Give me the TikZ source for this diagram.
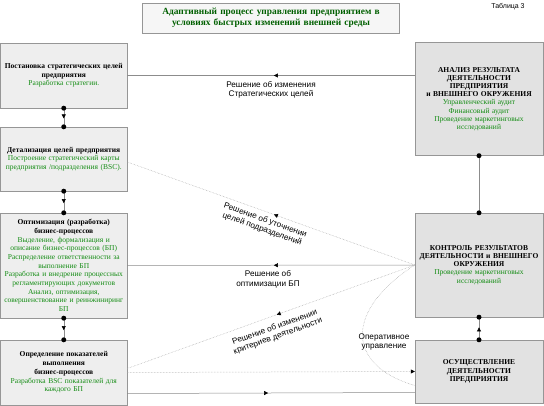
\documentclass[tikz,border=0pt]{standalone}
\usepackage{fontspec}
\setmainfont{Liberation Serif}
\setsansfont{Liberation Sans}
\usepackage{tikz}
\usetikzlibrary{calc,arrows.meta,decorations.markings}

\definecolor{boxline}{RGB}{150,150,150}
\definecolor{leftfill}{RGB}{238,238,238}
\definecolor{rightfill}{RGB}{226,226,226}
\definecolor{titlefill}{RGB}{246,246,246}
\definecolor{txtgreen}{RGB}{20,140,20}
\definecolor{titlegreen}{RGB}{0,95,0}
\definecolor{linkgray}{RGB}{140,140,140}
\newcommand{\grn}[1]{\textcolor{txtgreen}{#1}}

\tikzset{
  leftbox/.style={draw=boxline, fill=leftfill, minimum width=126.5pt, text width=125pt,
    align=center, inner sep=0.5pt, font=\fontsize{7.5}{8.7}\selectfont},
  rightbox/.style={draw=boxline, fill=rightfill, minimum width=128pt, text width=127pt,
    align=center, inner sep=0.5pt, font=\fontsize{7.5}{8.2}\selectfont},
  link/.style={draw=linkgray, line width=0.5pt},
  softlink/.style={draw=linkgray!80, line width=0.5pt, densely dotted},
  lbl/.style={font=\sffamily\fontsize{8.2}{9.3}\selectfont, align=center, text=black},
  midarrow/.style={postaction={decorate}, decoration={markings,
    mark=at position #1 with {\arrow[black]{Triangle[width=4pt,length=4pt]}}}},
  midarrow/.default=0.5,
  backarrow/.style={postaction={decorate}, decoration={markings,
    mark=at position #1 with {\arrowreversed[black]{Triangle[width=4pt,length=4pt]}}}},
  backarrow/.default=0.5,
  dot/.style={fill=black}
}

\begin{document}
\begin{tikzpicture}[x=1pt, y=-1pt]
            \useasboundingbox (0,0) rectangle (544,406);

            % title
            \node [draw=boxline, fill=titlefill, minimum width=252pt, minimum height=30pt,
                   text width=250pt, align=center, text=titlegreen,
                   font=\bfseries\fontsize{9.4}{11.5}\selectfont] (title) at (271,18)
                   {Адаптивный процесс управления предприятием в\\ условиях быстрых изменений внешней среды};
            \node [font=\sffamily\fontsize{7}{8}\selectfont] (tab) at (508,7) {Таблица 3};

            % left column
            \node [leftbox, minimum height=65pt] (P1) at (63.75,75.5)
                  {\textbf{Постановка стратегических целей\\ предприятия}\\
                   \grn{Разработка стратегии.}};
            \node [leftbox, minimum height=64pt] (P2) at (63.75,159)
                  {\textbf{Детализация целей предприятия}\\
                   \grn{Построение стратегический карты\\ предприятия /подразделения (BSC).}};
            \node [leftbox, minimum height=105pt] (P3) at (63.75,265.5)
                  {\textbf{Оптимизация (разработка)\\ бизнес-процессов}\\
                   \grn{Выделение, формализация и\\ описание бизнес-процессов (БП)}\\
                   \grn{Распределение ответственности за\\ выполнение БП}\\
                   \grn{Разработка и внедрение процессных\\ регламентирующих документов}\\
                   \grn{Анализ, оптимизация,\\ совершенствование и реинжиниринг\\ БП}};
            \node [leftbox, minimum height=65pt] (P4) at (63.75,372.5)
                  {\textbf{Определение показателей\\ выполнения\\ бизнес-процессов}\\
                   \grn{Разработка BSC показателей для\\ каждого БП}};

            % right column
            \node [rightbox, minimum height=113pt] (A) at (479,99)
                  {\textbf{АНАЛИЗ РЕЗУЛЬТАТА\\ ДЕЯТЕЛЬНОСТИ\\ ПРЕДПРИЯТИЯ\\ и ВНЕШНЕГО ОКРУЖЕНИЯ}\\
                   \grn{Управленческий аудит}\\
                   \grn{Финансовый аудит}\\
                   \grn{Проведение маркетинговых\\ исследований}};
            \node [rightbox, minimum height=104pt] (B) at (479,265)
                  {\textbf{КОНТРОЛЬ РЕЗУЛЬТАТОВ\\ ДЕЯТЕЛЬНОСТИ и ВНЕШНЕГО\\ ОКРУЖЕНИЯ}\\
                   \grn{Проведение маркетинговых\\ исследований}};
            \node [rightbox, minimum height=63pt] (C) at (479,371.5)
                  {\textbf{ОСУЩЕСТВЛЕНИЕ\\ ДЕЯТЕЛЬНОСТИ\\ ПРЕДПРИЯТИЯ}};

            % vertical links
            \draw [link, midarrow=0.55] (P1.south) -- (P2.north);
            \draw [link, midarrow=0.55] (P2.south) -- (P3.north);
            \draw [link, midarrow=0.55] (P3.south) -- (P4.north);
            \draw [link] (A.south) -- (B.north);
            \draw [link, midarrow=0.55] (C.north) -- (B.south);
            \foreach \n in {P1.south,P2.north,P2.south,P3.north,P3.south,P4.north,
                            A.south,B.north,B.south,C.north}
                \fill [dot] (\n) circle (2.5pt);

            % feedback links
            \draw [link, backarrow=0.51] (P1.east) -- (P1.east -| A.west)
                  node [lbl, midway, below=2pt] {Решение об изменения\\ Стратегических целей};
            \draw [softlink, backarrow=0.51] ([yshift=-3pt]P2.east) -- (B.west)
                  node [lbl, pos=0.49, sloped, below=1pt] {Решение об уточнении\\ целей подразделений};
            \draw [link, backarrow=0.51] (P3.east) -- (B.west)
                  node [lbl, midway, below=2pt, xshift=-3pt] {Решение об\\ оптимизации БП};
            \draw [softlink, backarrow=0.52] ([yshift=4pt]P4.east) -- (B.west)
                  node [lbl, pos=0.5, sloped, below=4pt] {Решение об изменении\\ критериев деятельности};

            % operational control
            \draw [softlink] (B.west) .. controls (345,310) and (345,365) .. ([yshift=-14pt]C.west);
            \node [lbl] (op) at (384,342) {Оперативное\\ управление};

            % forward links
            \draw [softlink, -{Triangle[width=4pt,length=4pt,black]}] (P4.east) -- (C.west);
            \draw [link, midarrow=0.49] ([yshift=-21pt]P4.east) -- ([yshift=-21pt]C.west);
        \end{tikzpicture}
\end{document}
